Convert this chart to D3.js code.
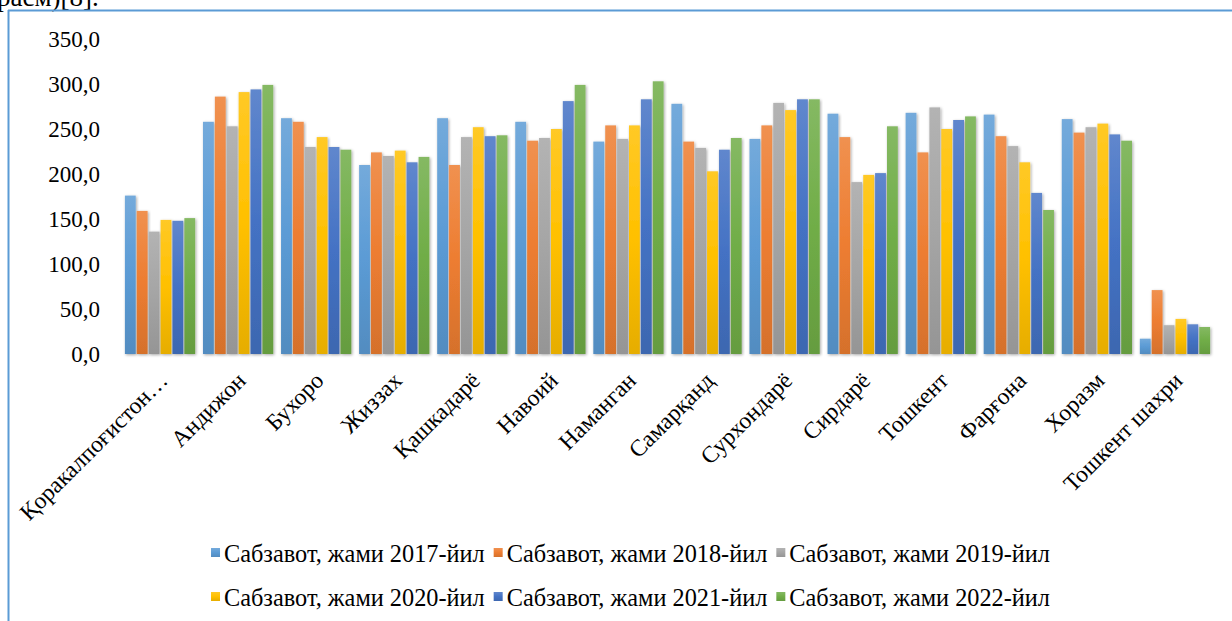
<!DOCTYPE html>
<html><head><meta charset="utf-8">
<script src="https://cdn.jsdelivr.net/npm/d3@7"></script>
<style>
html,body{margin:0;padding:0;background:#fff;overflow:hidden;}
svg{display:block;}
text{font-family:"Liberation Serif","Times New Roman",serif;fill:#000;}
</style></head>
<body>
<svg id="chart" width="1232" height="621"></svg>
<script>
const categories = ["Қоракалпоғистон…","Андижон","Бухоро","Жиззах","Қашкадарё","Навоий","Наманган","Самарқанд","Сурхондарё","Сирдарё","Тошкент","Фарғона","Хоразм","Тошкент шахри"];
const seriesNames = ["Сабзавот, жами 2017-йил","Сабзавот, жами 2018-йил","Сабзавот, жами 2019-йил","Сабзавот, жами 2020-йил","Сабзавот, жами 2021-йил","Сабзавот, жами 2022-йил"];
const v2017 = [176,258,262,210,262,258,236,278,239,267,268,266,261,17];
const v2018 = [159,286,258,224,210,237,254,236,254,241,224,242,246,71];
const v2019 = [136,253,230,220,241,240,239,229,279,191,274,231,252,32];
const v2020 = [149,291,241,226,252,250,254,203,271,199,250,213,256,39];
const v2021 = [148,294,230,213,242,281,283,227,283,201,260,179,244,33];
const v2022 = [151,299,227,219,243,299,303,240,283,253,264,160,237,30];
const yTicks = [0,50,100,150,200,250,300,350];
const yTickLabels = ["0,0","50,0","100,0","150,0","200,0","250,0","300,0","350,0"];
const colors = ["#5B9BD5","#ED7D31","#A5A5A5","#FFC000","#4472C4","#70AD47"];

const series = [v2017,v2018,v2019,v2020,v2021,v2022];
const svg = d3.select("#chart");
const defs = svg.append("defs");

const f = defs.append("filter").attr("id","sh").attr("x","-30%").attr("y","-10%").attr("width","160%").attr("height","130%");
f.append("feDropShadow").attr("dx",1).attr("dy",1).attr("stdDeviation",1.6).attr("flood-color","#000").attr("flood-opacity",0.35);
const fg = defs.append("filter").attr("id","shg").attr("x","-5%").attr("y","-200%").attr("width","110%").attr("height","500%");
fg.append("feDropShadow").attr("dx",0).attr("dy",1).attr("stdDeviation",0.8).attr("flood-color","#000").attr("flood-opacity",0.2);

colors.forEach((c,i)=>{
  const g = defs.append("linearGradient").attr("id","gr"+i).attr("x1",0).attr("y1",0).attr("x2",0).attr("y2",1);
  g.append("stop").attr("offset","0%").attr("stop-color", d3.interpolateRgb(c,"#fff")(0.15));
  g.append("stop").attr("offset","50%").attr("stop-color", c);
  g.append("stop").attr("offset","100%").attr("stop-color", d3.interpolateRgb(c,"#000")(0.1));
});

svg.append("text").attr("x",-3).attr("y",6).attr("font-size",27).text("расм)[8].");
svg.append("line").attr("x1",8).attr("x2",1232).attr("y1",10.5).attr("y2",10.5).attr("stroke","#5B9BD5").attr("stroke-width",2);
svg.append("line").attr("x1",8.5).attr("x2",8.5).attr("y1",10).attr("y2",621).attr("stroke","#5B9BD5").attr("stroke-width",2);

const x = d3.scaleBand().domain(categories).range([121,1214]).paddingInner(0.1).paddingOuter(0.05);
const xs = d3.scaleBand().domain(d3.range(series.length)).range([0,x.bandwidth()]).paddingInner(0.09);
const y = d3.scaleLinear().domain([0,350]).range([354,39]);

svg.append("g").selectAll("line").data(yTicks.filter(t=>t>0)).join("line")
  .attr("x1",121).attr("x2",1214).attr("y1",d=>y(d)).attr("y2",d=>y(d))
  .attr("stroke","#D9D9D9").attr("stroke-width",1.8).attr("filter","url(#shg)");

svg.append("g").selectAll("text").data(yTicks).join("text")
  .attr("x",100).attr("y",d=>y(d)).attr("dy","0.35em").attr("text-anchor","end").attr("font-size",23)
  .text((d,i)=>yTickLabels[i]);

const gBars = svg.append("g");
series.forEach((vals,si)=>{
  gBars.append("g").selectAll("rect").data(vals).join("rect")
    .attr("x",(d,i)=>x(categories[i])+xs(si))
    .attr("width",xs.bandwidth())
    .attr("y",d=>y(d)).attr("height",d=>y(0)-y(d))
    .attr("fill","url(#gr"+si+")").attr("filter","url(#sh)");
});

svg.append("line").attr("x1",121).attr("x2",1214).attr("y1",y(0)+0.5).attr("y2",y(0)+0.5)
  .attr("stroke","#D0D0D0").attr("stroke-width",2).attr("filter","url(#shg)");

svg.append("g").selectAll("text").data(categories).join("text")
  .attr("text-anchor","end").attr("font-size",23.5)
  .attr("transform",d=>`translate(${x(d)+x.bandwidth()/2+9},${382}) rotate(-45)`)
  .text(d=>d);

const rows = [[0,1,2],[3,4,5]];
const rowY = [553,597];
rows.forEach((r,ri)=>{
  const g = svg.append("g");
  let cx = 0;
  r.forEach(si=>{
    g.append("rect").attr("x",cx).attr("y",rowY[ri]-5).attr("width",9).attr("height",9).attr("fill","url(#gr"+si+")");
    const t = g.append("text").attr("x",cx+13).attr("y",rowY[ri]).attr("dy","0.35em").attr("font-size",24.3).text(seriesNames[si]);
    cx += 13 + t.node().getComputedTextLength() + 9;
  });
  const w = cx - 9;
  g.attr("transform",`translate(${630.5 - w/2},0)`);
});
</script>
</body></html>
